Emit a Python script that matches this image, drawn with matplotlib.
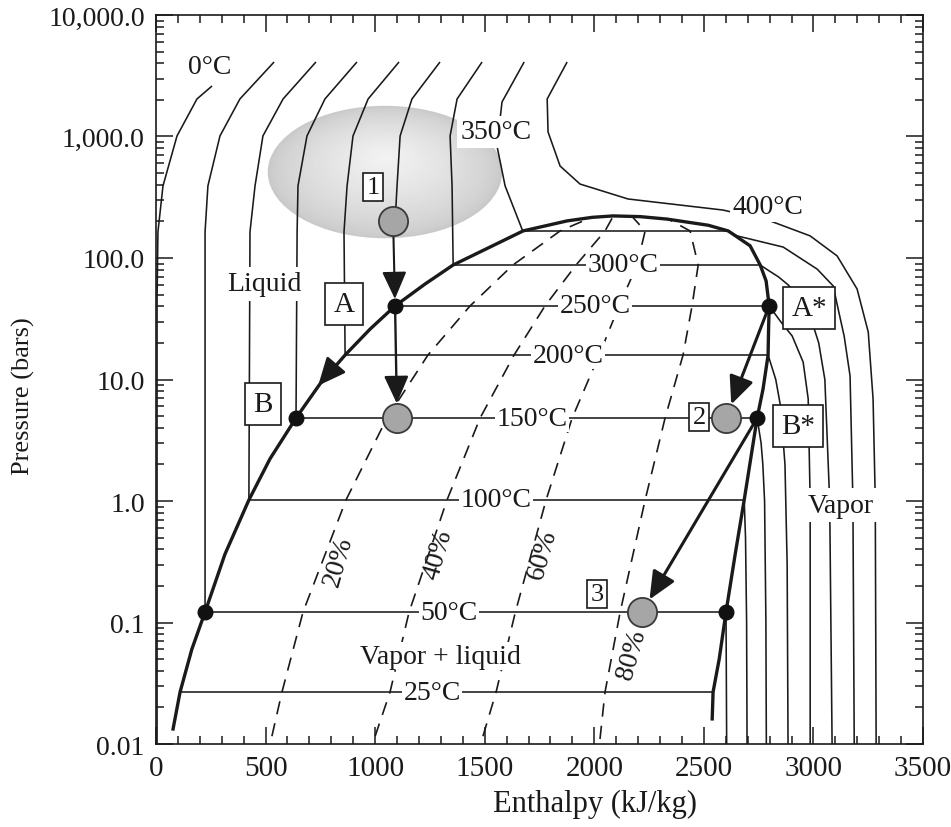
"""Pressure-enthalpy diagram of water with isotherms, quality lines and states 1-2-3."""

import matplotlib.pyplot as plt
import numpy as np
from matplotlib.patches import Ellipse
from matplotlib.ticker import FixedLocator, LogLocator, MultipleLocator, NullFormatter

plt.rcParams["font.family"] = ["Liberation Serif", "DejaVu Serif"]

INK = "#1a1a1a"

# saturation dome (enthalpy kJ/kg, pressure bar)
SAT_LIQ_H = [78, 110, 164, 224, 315, 424, 520, 639, 748, 863, 977, 1091, 1228, 1356, 1524, 1675, 1876, 1990, 2086]
SAT_LIQ_P = [0.0133, 0.0268, 0.0605, 0.122, 0.366, 1.02, 2.22, 4.82, 9.18, 15.9, 26.0, 40.3, 61.1, 87.6, 123, 167, 202, 216, 222]
SAT_VAP_H = [2086, 2209, 2332, 2520, 2611, 2711, 2757, 2784, 2798, 2795, 2793, 2770, 2743, 2684, 2643, 2601, 2570, 2542, 2538]
SAT_VAP_P = [222, 219, 209, 186, 167, 126, 87.6, 64.7, 40.3, 25.0, 15.9, 8.36, 4.82, 1.02, 0.366, 0.122, 0.0501, 0.0268, 0.0161]

# isotherms inside the dome
SAT_T_LABELS = ["25°C", "50°C", "100°C", "150°C", "200°C", "250°C", "300°C", "350°C"]
SAT_T_P = [0.0268, 0.122, 1.02, 4.82, 15.9, 40.3, 87.6, 167]
SAT_T_H_LIQ = [110, 224, 424, 639, 863, 1091, 1356, 1675]
SAT_T_H_VAP = [2542, 2601, 2684, 2743, 2793, 2798, 2757, 2611]
SAT_T_LABEL_H = [1260, 1337, 1552, 1716, 1880, 2004, 2131, None]

# compressed liquid isotherms (0, 50, 100, 150, 200, 250, 300, 350 °C)
LIQ_ISO_H = [
    [256, 187, 96, 32, 9, 5, 5],
    [539, 383, 292, 237, 224, 224],
    [730, 580, 488, 452, 429, 424],
    [917, 771, 689, 648, 644, 639],
    [1109, 968, 899, 872, 858, 863],
    [1296, 1168, 1114, 1100, 1095, 1082],
    [1488, 1374, 1342, 1351, 1356],
    [1680, 1579, 1556, 1593, 1670, 1675],
]
LIQ_ISO_P = [
    [2605, 2036, 1010, 392, 164, 46, 0.01],
    [4104, 2036, 1010, 392, 164, 0.122],
    [4104, 2036, 1010, 392, 164, 1.02],
    [4104, 2036, 1010, 392, 164, 4.82],
    [4104, 2036, 1010, 392, 164, 15.9],
    [4104, 2036, 1010, 392, 268, 202],
    [4104, 2036, 1010, 392, 87.6],
    [4104, 1923, 835, 392, 173, 167],
]

# superheated vapor isotherms (50 ... 350 °C)
VAP_ISO_H = [
    [2601, 2604],
    [2684, 2690, 2695, 2697],
    [2743, 2761, 2769, 2777, 2783, 2785],
    [2793, 2828, 2850, 2870, 2880, 2884],
    [2798, 2850, 2903, 2953, 2976, 2985, 2985],
    [2757, 2790, 2840, 2885, 2925, 2961, 2993, 3024, 3052, 3074, 3085],
    [2611, 2652, 2862, 3017, 3090, 3110, 3140, 3167, 3180, 3186],
]
VAP_ISO_P = [
    [0.122, 0.01],
    [1.02, 0.5, 0.1, 0.01],
    [4.82, 3, 2, 1, 0.1, 0.01],
    [15.9, 10, 6, 2, 0.3, 0.01],
    [40.3, 30, 22.8, 13.9, 6.92, 1, 0.01],
    [87.6, 80, 70, 60, 50, 40, 30, 20, 10, 1, 0.01],
    [167, 152, 123, 81, 58.9, 40, 22.8, 10.7, 1, 0.01],
]

# supercritical 400 °C isotherm
ISO400_H = [1876, 1785, 1789, 1844, 1935, 2154, 2588, 2802, 2985, 3108, 3199, 3250, 3272, 3282, 3286]
ISO400_P = [4104, 2036, 1089, 571, 406, 306, 248, 202, 152, 104, 55.6, 24.6, 6.92, 1.04, 0.01]

# constant quality lines (20, 40, 60, 80 %)
QUAL_LABELS = ["20%", "40%", "60%", "80%"]
QUAL_H = [
    [529, 575, 671, 867, 1054, 1241, 1433, 1629, 1844, 1958],
    [1000, 1068, 1155, 1328, 1479, 1634, 1775, 1917, 2049, 2081],
    [1492, 1552, 1640, 1780, 1899, 2022, 2113, 2195, 2232, 2177],
    [2026, 2049, 2118, 2232, 2323, 2405, 2446, 2474, 2437, 2346],
]
QUAL_P = [
    [0.0116, 0.0268, 0.122, 1.02, 4.82, 15.9, 40.3, 87.6, 167, 205],
    [0.0116, 0.0268, 0.122, 1.02, 4.82, 15.9, 40.3, 87.6, 167, 212],
    [0.0116, 0.0268, 0.122, 1.02, 4.82, 15.9, 40.3, 87.6, 167, 215],
    [0.0110, 0.0268, 0.122, 1.02, 4.82, 15.9, 40.3, 87.6, 167, 205],
]
QUAL_LABEL_H = [831, 1287, 1766, 2172]
QUAL_LABEL_P = [0.321, 0.366, 0.366, 0.0551]

# process states
DOT_H = [1091, 639, 224, 2798, 2743, 2601]
DOT_P = [40.3, 4.82, 0.122, 40.3, 4.82, 0.122]
CIRCLE_H = [1082, 1100, 2601, 2218]
CIRCLE_P = [202, 4.82, 4.82, 0.122]
NUM_LABELS = ["1", "2", "3"]
NUM_H = [990, 2478, 2013]
NUM_P = [384, 4.9, 0.172]
LETTER_LABELS = ["A", "B", "A*", "B*"]
LETTER_H = [858, 488, 2980, 2930]
LETTER_P = [41.8, 6.29, 38.7, 4.14]

# highlighted region around state 1
ELL_H, ELL_P = 1045, 510
ELL_WIDTH_H, ELL_HEIGHT_DEC = 1070, 1.09

X_TICKS = [0, 500, 1000, 1500, 2000, 2500, 3000, 3500]
Y_TICKS = [0.01, 0.1, 1, 10, 100, 1000, 10000]
Y_TICK_LABELS = ["0.01", "0.1", "1.0", "10.0", "100.0", "1,000.0", "10,000.0"]

LABEL_FS = 20

fig = plt.figure(figsize=(9.51, 8.28), dpi=100)
ax = fig.add_axes([0.164, 0.1002, 0.8066, 0.8805])
ax.set_yscale("log")
ax.set_xlim(0, 3500)
ax.set_ylim(0.01, 10000)

# gray ellipse with a soft radial gradient
cx, cy = ax.transAxes.inverted().transform(ax.transData.transform((ELL_H, ELL_P)))
w_ax = ELL_WIDTH_H / 3500
h_ax = ELL_HEIGHT_DEC / 6
n_rings = 45
for i in range(n_rings):
    f = 1 - i / n_rings
    shade = 0.79 + (0.955 - 0.79) * (1 - f) ** 0.7
    ax.add_patch(Ellipse((cx, cy + (1 - f) * h_ax * 0.12), w_ax * f, h_ax * f,
                         transform=ax.transAxes, fc=(shade, shade, shade), ec="none", zorder=1))

thin = dict(color=INK, lw=1.15, zorder=2, solid_capstyle="butt")

for hs, ps in zip(LIQ_ISO_H, LIQ_ISO_P):
    ax.plot(hs, ps, **thin)
for hs, ps in zip(VAP_ISO_H, VAP_ISO_P):
    ax.plot(hs, ps, **thin)
ax.plot(ISO400_H, ISO400_P, **thin)
for p, h0, h1 in zip(SAT_T_P, SAT_T_H_LIQ, SAT_T_H_VAP):
    ax.plot([h0, h1], [p, p], **thin)

for hs, ps in zip(QUAL_H, QUAL_P):
    ax.plot(hs, ps, color=INK, lw=1.2, dashes=(8, 5.5), zorder=2)

ax.plot(SAT_LIQ_H + SAT_VAP_H[1:], SAT_LIQ_P + SAT_VAP_P[1:], color=INK, lw=2.4, zorder=3,
        solid_joinstyle="round")

label_box = dict(fc="white", ec="none", pad=1.0)
for s, p, h in zip(SAT_T_LABELS, SAT_T_P, SAT_T_LABEL_H):
    if h is not None:
        ax.text(h, p, s, ha="center", va="center", fontsize=LABEL_FS, color=INK, bbox=label_box, zorder=4)
ax.text(1552, 1089, "350°C", ha="center", va="center", fontsize=LABEL_FS, color=INK,
        bbox=dict(fc="white", ec="none", pad=2.5), zorder=4)
ax.text(2793, 263, "400°C", ha="center", va="center", fontsize=LABEL_FS, color=INK,
        bbox=dict(fc="white", ec="none", pad=2.0), zorder=4)
ax.text(246, 3733, "0°C", ha="center", va="center", fontsize=LABEL_FS, color=INK, zorder=4)
ax.text(497, 61.1, "Liquid", ha="center", va="center", fontsize=LABEL_FS, color=INK,
        bbox=dict(fc="white", ec="none", pad=3.0), zorder=4)
ax.text(3126, 0.927, "Vapor", ha="center", va="center", fontsize=LABEL_FS, color=INK,
        bbox=dict(fc="white", ec="none", pad=3.0), zorder=4)
ax.text(1296, 0.053, "Vapor + liquid", ha="center", va="center", fontsize=LABEL_FS, color=INK,
        bbox=dict(fc="white", ec="none", pad=1.0), zorder=4)
for s, h, p in zip(QUAL_LABELS, QUAL_LABEL_H, QUAL_LABEL_P):
    ax.text(h, p, s, ha="center", va="center", fontsize=LABEL_FS, color=INK, rotation=74,
            rotation_mode="anchor", zorder=4)


def arrow(start, end, lw, shrink_a, shrink_b):
    ax.annotate("", xy=end, xytext=start, zorder=5,
                arrowprops=dict(arrowstyle="-|>,head_length=0.85,head_width=0.38", color=INK, lw=lw,
                                shrinkA=shrink_a, shrinkB=shrink_b, mutation_scale=20))


arrow((CIRCLE_H[0], CIRCLE_P[0]), (DOT_H[0], DOT_P[0]), 1.5, 10, 5)
arrow((DOT_H[0], DOT_P[0]), (CIRCLE_H[1], CIRCLE_P[1]), 1.7, 5, 10.5)
arrow((812, 12.6), (740, 8.9), 2.0, 0, 0)
arrow((DOT_H[3], DOT_P[3]), (CIRCLE_H[2], CIRCLE_P[2]), 2.2, 5, 10.5)
arrow((DOT_H[4], DOT_P[4]), (CIRCLE_H[3], CIRCLE_P[3]), 2.2, 5, 10.5)

ax.plot(CIRCLE_H, CIRCLE_P, "o", ms=21, mfc="#a6a6a6", mec="#3a3a3a", mew=1.3, zorder=6, ls="none")
ax.plot(DOT_H, DOT_P, "o", ms=10.5, color="#111111", zorder=6, ls="none")

for s, h, p in zip(NUM_LABELS, NUM_H, NUM_P):
    ax.text(h, p, s, ha="center", va="center", fontsize=19, color=INK, zorder=7,
            bbox=dict(boxstyle="square,pad=0.12", fc="white", ec=INK, lw=1.2))
for s, h, p in zip(LETTER_LABELS, LETTER_H, LETTER_P):
    ax.text(h, p, s, ha="center", va="center", fontsize=21, color=INK, zorder=7,
            bbox=dict(boxstyle="square,pad=0.28", fc="white", ec=INK, lw=1.2))

# axes styling
ax.xaxis.set_major_locator(FixedLocator(X_TICKS))
ax.xaxis.set_minor_locator(MultipleLocator(100))
ax.set_xticklabels([str(v) for v in X_TICKS])
ax.yaxis.set_major_locator(FixedLocator(Y_TICKS))
ax.set_yticklabels(Y_TICK_LABELS)
ax.yaxis.set_minor_locator(LogLocator(base=10, subs=np.arange(2, 10)))
ax.yaxis.set_minor_formatter(NullFormatter())
ax.tick_params(which="both", direction="in", top=True, right=True, colors=INK, width=1.1)
ax.tick_params(which="major", length=12.5)
ax.tick_params(which="minor", length=6)
ax.tick_params(axis="x", labelsize=21, pad=8)
ax.tick_params(axis="y", labelsize=20, pad=8)
for sp in ax.spines.values():
    sp.set_linewidth(1.2)
    sp.set_color(INK)

ax.set_xlabel("Enthalpy (kJ/kg)", fontsize=22, color=INK)
ax.set_ylabel("Pressure (bars)", fontsize=19, color=INK)
ax.xaxis.set_label_coords(0.572, -0.062)
ax.yaxis.set_label_coords(-0.158, 0.479)

fig.savefig("out.png", dpi=100, facecolor="white")
